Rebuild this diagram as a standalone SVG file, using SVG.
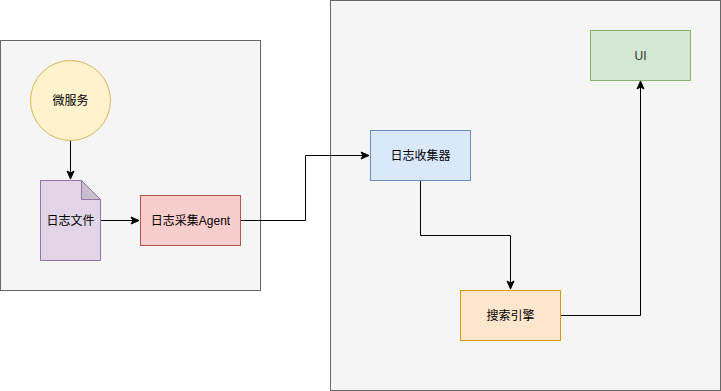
<svg xmlns="http://www.w3.org/2000/svg" width="721" height="391" viewBox="0 0 721 391">
<style>
.t{font-family:"Liberation Sans","Noto Sans CJK SC",sans-serif;font-size:12px;fill:#000;text-anchor:middle;dominant-baseline:central}
.c{fill:none;stroke:#000;stroke-width:1}
</style>
<defs>
<marker id="ah" viewBox="0 0 10 10" refX="9" refY="5" markerWidth="10" markerHeight="10" markerUnits="userSpaceOnUse" orient="auto">
<path d="M1,1.5 L9,5 L1,8.5 L3,5 Z" fill="#000" stroke="#000" stroke-width="1"/>
</marker>
</defs>
<rect width="721" height="391" fill="#fff"/>
<g id="container-left"><rect x="0.5" y="40.5" width="260" height="250" fill="#f5f5f5" stroke="#666"/></g>
<g id="container-right"><rect x="330.5" y="0.5" width="390" height="390" fill="#f5f5f5" stroke="#666"/></g>
<g id="connectors">
<path class="c" d="M70.5,140 L70.5,179" marker-end="url(#ah)"/>
<path class="c" d="M100,220.5 L139,220.5" marker-end="url(#ah)"/>
<path class="c" d="M240,220.5 L305.5,220.5 L305.5,155.5 L369,155.5" marker-end="url(#ah)"/>
<path class="c" d="M420.5,180 L420.5,235.5 L510.5,235.5 L510.5,289" marker-end="url(#ah)"/>
<path class="c" d="M560,315.5 L640.5,315.5 L640.5,81" marker-end="url(#ah)"/>
</g>
<g id="n-micro"><circle cx="70.5" cy="100.5" r="40" fill="#fff2cc" stroke="#d6b656"/><text class="t" x="70.5" y="100.5">微服务</text></g>
<g id="n-file"><path d="M40.5,180.5 L81.5,180.5 L100.5,199.5 L100.5,260.5 L40.5,260.5 Z" fill="#e1d5e7" stroke="#9673a6"/><path d="M81.5,180.5 L81.5,199.5 L100.5,199.5 Z" fill="#c9bfd0" stroke="#9673a6"/><text class="t" x="70.5" y="220.5">日志文件</text></g>
<g id="n-agent"><rect x="140.5" y="195.5" width="100" height="50" fill="#f8cecc" stroke="#b85450"/><text class="t" x="190.5" y="220.5">日志采集Agent</text></g>
<g id="n-collector"><rect x="370.5" y="130.5" width="100" height="50" fill="#dae8fc" stroke="#6c8ebf"/><text class="t" x="420.5" y="155.5">日志收集器</text></g>
<g id="n-ui"><rect x="590.5" y="30.5" width="100" height="50" fill="#d5e8d4" stroke="#82b366"/><text class="t" x="640.5" y="55.5" style="fill:#333">UI</text></g>
<g id="n-search"><rect x="460.5" y="290.5" width="100" height="50" fill="#ffe6cc" stroke="#d79b00"/><text class="t" x="510.5" y="315.5">搜索引擎</text></g>
</svg>
